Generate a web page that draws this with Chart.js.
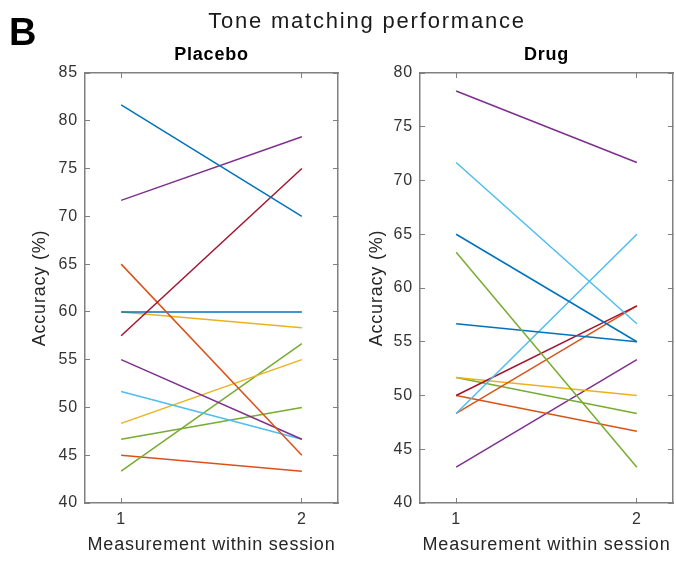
<!DOCTYPE html>
<html>
<head>
<meta charset="utf-8">
<script src="https://cdn.jsdelivr.net/npm/chart.js@4.4.1/dist/chart.umd.min.js"></script>
<style>
  html, body { margin: 0; padding: 0; background: #fff; }
  #wrap { position: relative; width: 676px; height: 561px; overflow: hidden; font-family: "Liberation Sans", Arial, sans-serif; }
  #panel-letter { position: absolute; left: 9px; top: 13px; font-size: 38px; font-weight: bold; line-height: 1; color: #000; }
  #main-title { position: absolute; left: 0; width: 734px; top: 10px; text-align: center; font-size: 22px; line-height: 1; letter-spacing: 1.8px; color: #1a1a1a; }
  canvas { position: absolute; top: 0; }
  #placebo { left: 0; }
  #drug { left: 340px; }
</style>
</head>
<body>
<div id="wrap">
  <canvas id="placebo" width="340" height="561"></canvas>
  <canvas id="drug" width="336" height="561"></canvas>
  <div id="panel-letter">B</div>
  <div id="main-title">Tone matching performance</div>
</div>
<script>
// values
const xTicks = [1, 2];
const placeboFirst  = [81.67, 71.67, 57.5, 65, 60, 60, 55, 51.67, 48.33, 46.67, 43.33, 45];
const placeboSecond = [70, 78.33, 75, 45, 60, 58.33, 46.67, 46.67, 55, 50, 56.67, 43.33];
const drugFirst  = [78.33, 71.67, 65, 63.33, 56.67, 48.33, 50, 48.33, 51.67, 51.67, 50, 43.33];
const drugSecond = [71.67, 56.67, 55, 43.33, 55, 65, 58.33, 58.33, 50, 48.33, 46.67, 53.33];

// matlab default line colours
const mBlue = '#0072BD', mOrange = '#D95319', mYellow = '#EDB120', mPurple = '#7E2F8E',
      mGreen = '#77AC30', mCyan = '#4DBEEE', mRed = '#A2142F';
const placeboColors = [mBlue, mPurple, mRed, mOrange, mBlue, mYellow, mPurple, mCyan, mYellow, mGreen, mGreen, mOrange];
const drugColors = [mPurple, mCyan, mBlue, mGreen, mBlue, mCyan, mRed, mOrange, mYellow, mGreen, mOrange, mPurple];

const family = '"Liberation Sans", Arial, sans-serif';
const axisGray = '#808080';
const tickColor = '#333';

// matlab text is a bit wider than arial
const spacingPlugin = {
  id: 'wideText',
  beforeUpdate(chart) { chart.ctx.letterSpacing = '0.8px'; },
  beforeDraw(chart) { chart.ctx.letterSpacing = '0.8px'; }
};

function setTicks(scale) { scale.ticks = xTicks.map(v => ({ value: v })); }

function makePanel(id, title, first, second, colors, yMin, yMax, padLeft, axisW, padRight) {
  const datasets = first.map((v, i) => ({
    data: [{ x: xTicks[0], y: v }, { x: xTicks[1], y: second[i] }],
    borderColor: colors[i],
    borderWidth: 1.5,
    pointRadius: 0,
    fill: false,
    tension: 0
  }));

  const grid = { drawOnChartArea: false, color: axisGray, tickLength: -5, lineWidth: 1 };
  const border = { color: axisGray, width: 1.5 };

  return new Chart(document.getElementById(id), {
    type: 'line',
    data: { datasets },
    plugins: [spacingPlugin],
    options: {
      responsive: false,
      animation: false,
      layout: { padding: { top: 44, left: padLeft, right: padRight, bottom: 0 } },
      plugins: {
        legend: { display: false },
        tooltip: { enabled: false },
        title: {
          display: true, text: title, fullSize: false, color: '#000',
          font: { family, size: 18, weight: 'bold' },
          padding: { top: 0, bottom: 7.4 }
        }
      },
      scales: {
        x: {
          type: 'linear', position: 'bottom', min: 0.8, max: 2.2,
          afterBuildTicks: setTicks,
          afterFit: s => { s.height = 58; },
          grid, border,
          ticks: { padding: 12, color: tickColor, font: { family, size: 16 } },
          title: {
            display: true, text: 'Measurement within session', color: '#262626',
            font: { family, size: 18 }, padding: { top: 0, bottom: 4.7 }
          }
        },
        x2: {
          type: 'linear', position: 'top', min: 0.8, max: 2.2,
          afterBuildTicks: setTicks,
          afterFit: s => { s.height = 0; },
          grid, border,
          ticks: { display: false }
        },
        y: {
          type: 'linear', position: 'left', min: yMin, max: yMax,
          afterFit: s => { s.width = axisW; },
          grid, border,
          ticks: { stepSize: 5, padding: 12, color: tickColor, font: { family, size: 16 } },
          title: {
            display: true, text: 'Accuracy (%)', color: '#262626',
            font: { family, size: 18 }, padding: { top: 9.2, bottom: 0 }
          }
        },
        y2: {
          type: 'linear', position: 'right', min: yMin, max: yMax,
          afterFit: s => { s.width = 0; },
          grid, border,
          ticks: { display: false, stepSize: 5 }
        }
      }
    }
  });
}

makePanel('placebo', 'Placebo', placeboFirst, placeboSecond, placeboColors, 40, 85, 20, 65, 2);
makePanel('drug', 'Drug', drugFirst, drugSecond, drugColors, 40, 80, 17, 63, 3);
</script>
</body>
</html>
